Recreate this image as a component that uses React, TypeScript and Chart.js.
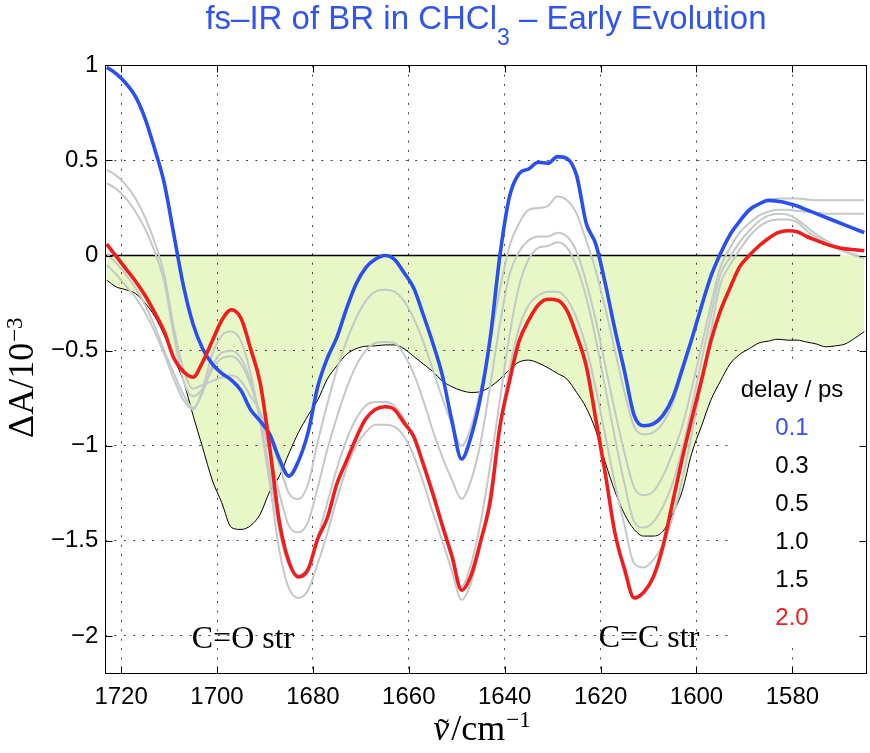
import React, { useEffect, useRef } from 'react';
import { Chart, registerables } from 'chart.js';

Chart.register(...registerables);

// ---------- data ----------
const wavenumbers = [
  1723, 1721, 1719, 1717, 1715, 1713, 1711, 1709, 1707, 1705,
  1703, 1701, 1699, 1697, 1695, 1693, 1691, 1689, 1687, 1685,
  1683, 1681, 1679, 1677, 1675, 1673, 1671, 1669, 1667, 1665,
  1663, 1661, 1659, 1657, 1655, 1653, 1651, 1649, 1647, 1645,
  1643, 1641, 1639, 1637, 1635, 1633, 1631, 1629, 1627, 1625,
  1623, 1621, 1619, 1617, 1615, 1613, 1611, 1609, 1607, 1605,
  1603, 1601, 1599, 1597, 1595, 1593, 1591, 1589, 1587, 1585,
  1583, 1581, 1579, 1577, 1575, 1573, 1571, 1569, 1567, 1565,
];

const delay01 = [
  0.99, 0.955, 0.905, 0.835, 0.72, 0.56, 0.38, 0.11, -0.16, -0.36,
  -0.49, -0.57, -0.62, -0.655, -0.71, -0.81, -0.87, -0.94, -1.07, -1.16,
  -1.08, -0.93, -0.69, -0.54, -0.43, -0.28, -0.15, -0.065, -0.02, 0,
  -0.02, -0.09, -0.17, -0.31, -0.46, -0.63, -0.87, -1.07, -0.95, -0.74,
  -0.43, 0, 0.31, 0.43, 0.455, 0.49, 0.485, 0.52, 0.51, 0.42,
  0.17, 0.06, -0.15, -0.39, -0.61, -0.84, -0.895, -0.885, -0.84, -0.75,
  -0.6, -0.44, -0.27, -0.11, 0.01, 0.11, 0.18, 0.24, 0.27, 0.29,
  0.285, 0.275, 0.26, 0.24, 0.22, 0.2, 0.18, 0.16, 0.14, 0.12,
];

const delay03 = [
  0.45, 0.42, 0.37, 0.3, 0.2, 0.07, -0.1, -0.38, -0.6, -0.7,
  -0.68, -0.66, -0.64, -0.63, -0.66, -0.74, -0.82, -0.95, -1.1, -1.25,
  -1.28, -1.2, -0.98, -0.78, -0.6, -0.45, -0.33, -0.24, -0.19, -0.18,
  -0.19, -0.24, -0.33, -0.45, -0.6, -0.75, -0.89, -1.0, -0.9, -0.7,
  -0.45, -0.18, 0.05, 0.17, 0.24, 0.25, 0.26, 0.31, 0.29, 0.22,
  0.08, -0.08, -0.28, -0.5, -0.72, -0.9, -0.94, -0.93, -0.88, -0.78,
  -0.62, -0.45, -0.28, -0.12, 0.0, 0.1, 0.18, 0.23, 0.27, 0.29,
  0.3, 0.3, 0.3, 0.295, 0.29, 0.29, 0.29, 0.29, 0.29, 0.29,
];

const delay05 = [
  0.38, 0.35, 0.3, 0.23, 0.14, 0.02, -0.14, -0.42, -0.66, -0.74,
  -0.7, -0.6, -0.54, -0.53, -0.57, -0.68, -0.84, -1.04, -1.25, -1.42,
  -1.455, -1.4, -1.22, -1.02, -0.85, -0.7, -0.58, -0.5, -0.46, -0.455,
  -0.46, -0.52, -0.62, -0.76, -0.92, -1.06, -1.18, -1.28, -1.18, -0.98,
  -0.68, -0.36, -0.1, 0.02, 0.08, 0.1, 0.1, 0.12, 0.1, 0.02,
  -0.14, -0.34, -0.58, -0.82, -1.04, -1.22, -1.26, -1.24, -1.16, -1.04,
  -0.9, -0.7, -0.48, -0.26, -0.06, 0.04, 0.12, 0.17, 0.21, 0.23,
  0.24, 0.24, 0.235, 0.23, 0.225, 0.22, 0.22, 0.22, 0.22, 0.22,
];

const delay10 = [
  0.01, -0.04, -0.1, -0.17, -0.26, -0.37, -0.5, -0.62, -0.73, -0.8,
  -0.72, -0.58, -0.51, -0.5, -0.54, -0.66, -0.86, -1.14, -1.45, -1.63,
  -1.68, -1.64, -1.48, -1.3, -1.12, -0.97, -0.86, -0.79, -0.77, -0.77,
  -0.79, -0.86, -0.96, -1.1, -1.27, -1.43, -1.6, -1.74, -1.62, -1.4,
  -1.1, -0.76, -0.42, -0.16, -0.02, 0.04, 0.05, 0.07, 0.04, -0.06,
  -0.22, -0.44, -0.7, -0.96, -1.2, -1.4, -1.43, -1.4, -1.32, -1.2,
  -1.02, -0.8, -0.56, -0.32, -0.1, -0.01, 0.07, 0.13, 0.18, 0.21,
  0.22, 0.215, 0.19, 0.15, 0.11, 0.08, 0.05, 0.02, 0.0, -0.015,
];

const delay15 = [
  -0.05, -0.1, -0.16, -0.22, -0.3, -0.4, -0.52, -0.65, -0.76, -0.81,
  -0.7, -0.52, -0.42, -0.4, -0.45, -0.62, -0.88, -1.2, -1.55, -1.75,
  -1.8, -1.76, -1.62, -1.46, -1.28, -1.12, -1.0, -0.93, -0.89, -0.89,
  -0.9, -0.95, -1.05, -1.19, -1.35, -1.5, -1.66, -1.81, -1.72, -1.52,
  -1.24, -0.9, -0.6, -0.38, -0.26, -0.21, -0.19, -0.19, -0.23, -0.33,
  -0.48, -0.7, -0.95, -1.2, -1.42, -1.62, -1.64, -1.6, -1.52, -1.38,
  -1.18, -0.94, -0.68, -0.4, -0.15, -0.05, 0.03, 0.1, 0.15, 0.18,
  0.19, 0.19, 0.175, 0.13, 0.095, 0.07, 0.04, 0.02, 0.005, -0.01,
];

const delay20 = [
  0.06, -0.005, -0.07, -0.135, -0.21, -0.3, -0.4, -0.54, -0.61, -0.64,
  -0.56, -0.45, -0.34, -0.285, -0.33, -0.49, -0.67, -1.01, -1.4, -1.61,
  -1.69, -1.65, -1.49, -1.38, -1.2, -1.08, -0.96, -0.86, -0.81, -0.795,
  -0.81, -0.88, -0.95, -1.095, -1.25, -1.42, -1.58, -1.76, -1.68, -1.5,
  -1.29, -0.9, -0.66, -0.45, -0.34, -0.26, -0.23, -0.235, -0.29, -0.42,
  -0.58, -0.86, -1.15, -1.46, -1.65, -1.80, -1.77, -1.69, -1.53, -1.3,
  -1.07, -0.86, -0.66, -0.45, -0.29, -0.17, -0.06, 0.0, 0.05, 0.09,
  0.12, 0.13, 0.125, 0.1, 0.08, 0.06, 0.045, 0.035, 0.03, 0.025,
];

// ground-state bleach (filled region boundary)
const bleach = [
  -0.13, -0.165, -0.18, -0.2, -0.25, -0.32, -0.42, -0.54, -0.66, -0.84,
  -1.01, -1.18, -1.3, -1.43, -1.44, -1.42, -1.36, -1.24, -1.16, -1.04,
  -0.93, -0.84, -0.76, -0.65, -0.58, -0.52, -0.49, -0.477, -0.475, -0.47,
  -0.47, -0.49, -0.53, -0.57, -0.61, -0.66, -0.69, -0.71, -0.72, -0.715,
  -0.69, -0.65, -0.6, -0.56, -0.55, -0.565, -0.59, -0.62, -0.65, -0.72,
  -0.8, -0.92, -1.09, -1.24, -1.36, -1.44, -1.475, -1.475, -1.45, -1.36,
  -1.24, -1.04, -0.9, -0.76, -0.66, -0.57, -0.52, -0.49, -0.46, -0.45,
  -0.44, -0.445, -0.445, -0.455, -0.465, -0.48, -0.475, -0.465, -0.435, -0.4,
];

const zeroLineX = [1723.3, 1570];
const zeroLineY = [0, 0];

const xTicks = [1720, 1700, 1680, 1660, 1640, 1620, 1600, 1580];
const xTickLabels = ['1720', '1700', '1680', '1660', '1640', '1620', '1600', '1580'];
const yTicks = [-2, -1.5, -1, -0.5, 0, 0.5, 1];
const yTickLabels = ['\u22122', '\u22121.5', '\u22121', '\u22120.5', '0', '0.5', '1'];

const delayLabels = ['0.1', '0.3', '0.5', '1.0', '1.5', '2.0'];

// ---------- style ----------
const W = 870;
const H = 753;
const X_MIN = 1564.5;
const X_MAX = 1723.3;
const Y_MIN = -2.2;
const Y_MAX = 1;
const BLUE = '#2a4ff0';
const TITLE_BLUE = '#2f55ee';
const RED = '#f21c1c';
const GRAY = '#c3c8c8';
const FILL = '#e7f7c5';
const SANS = '"Liberation Sans", Arial, sans-serif';
const SERIF = '"Liberation Serif", "Times New Roman", serif';
const legendColors = [TITLE_BLUE, '#000', '#000', '#000', '#000', RED];

function toPoints(xs: number[], ys: number[]) {
  return xs.map((x, i) => ({ x, y: ys[i] }));
}

const decorPlugin = {
  id: 'decor',
  afterDatasetsDraw(chart: any) {
    const { ctx, chartArea: a, scales } = chart;
    const xs = scales.x;
    const ys = scales.y;
    ctx.save();
    // legend background patch (white, no border) like MATLAB legend
    ctx.fillStyle = '#fff';
    ctx.fillRect(734, 364, a.right - 734 - 1, 278);

    ctx.strokeStyle = '#000';
    ctx.lineWidth = 1;
    ctx.setLineDash([]);
    const L = Math.round(a.left) + 0.5;
    const R = Math.round(a.right) - 0.5;
    const T = Math.round(a.top) + 0.5;
    const B = Math.round(a.bottom) - 0.5;
    ctx.strokeRect(L, T, R - L, B - T);
    const tl = 7;
    ctx.beginPath();
    xTicks.forEach((v) => {
      const px = Math.round(xs.getPixelForValue(v)) + 0.5;
      ctx.moveTo(px, B);
      ctx.lineTo(px, B - tl);
      ctx.moveTo(px, T);
      ctx.lineTo(px, T + tl);
    });
    yTicks.forEach((v) => {
      const py = Math.round(ys.getPixelForValue(v)) + 0.5;
      ctx.moveTo(L, py);
      ctx.lineTo(L + tl, py);
      ctx.moveTo(R, py);
      ctx.lineTo(R - tl, py);
    });
    ctx.stroke();
    ctx.restore();
  },
  afterDraw(chart: any) {
    const { ctx } = chart;
    ctx.save();
    ctx.textBaseline = 'alphabetic';

    // Title
    const t1 = 'fs\u2013IR of BR in CHCl';
    const sub = '3';
    const t2 = ' \u2013 Early Evolution';
    const mainFont = `33px ${SANS}`;
    const subFont = `23px ${SANS}`;
    ctx.font = mainFont;
    const w1 = ctx.measureText(t1).width;
    const w2 = ctx.measureText(t2).width;
    ctx.font = subFont;
    const ws = ctx.measureText(sub).width;
    const total = w1 + ws + w2;
    const x0 = 486 - total / 2;
    ctx.fillStyle = TITLE_BLUE;
    ctx.textAlign = 'left';
    ctx.font = mainFont;
    ctx.fillText(t1, x0, 29);
    ctx.font = subFont;
    ctx.fillText(sub, x0 + w1, 45);
    ctx.font = mainFont;
    ctx.fillText(t2, x0 + w1 + ws, 29);

    // Legend (colored text)
    ctx.textAlign = 'center';
    ctx.textBaseline = 'middle';
    ctx.font = `24px ${SANS}`;
    ctx.fillStyle = '#000';
    ctx.fillText('delay / ps', 792, 390);
    const ly = [428, 466, 504, 542, 580, 618];
    delayLabels.forEach((s, i) => {
      ctx.fillStyle = legendColors[i];
      ctx.fillText(s, 792, ly[i]);
    });

    // Band annotations
    ctx.textBaseline = 'alphabetic';
    ctx.fillStyle = '#000';
    ctx.font = `32px ${SERIF}`;
    ctx.fillText('C=O str', 243, 648);
    ctx.fillText('C=C str', 649, 647);

    // Y axis title
    ctx.save();
    ctx.translate(33, 438);
    ctx.rotate(-Math.PI / 2);
    ctx.textAlign = 'left';
    ctx.font = `36px ${SERIF}`;
    const ymain = '\u0394A/10';
    ctx.fillText(ymain, 0, 0);
    const ym = ctx.measureText(ymain).width;
    ctx.font = `23px ${SERIF}`;
    ctx.fillText('\u22123', ym + 1, -11);
    ctx.restore();

    // X axis title: nu-tilde / cm^-1
    ctx.textAlign = 'left';
    const nu = '\u03BD';
    const rest = '/cm';
    const sup = '\u22121';
    ctx.font = `italic 36px ${SERIF}`;
    const wn = ctx.measureText(nu).width + 2;
    ctx.font = `36px ${SERIF}`;
    const wr = ctx.measureText(rest).width;
    ctx.font = `23px ${SERIF}`;
    const wsup = ctx.measureText(sup).width;
    const tot = wn + wr + 1 + wsup;
    const sx = 482 - tot / 2;
    ctx.font = `italic 36px ${SERIF}`;
    ctx.fillText(nu, sx, 740);
    ctx.textAlign = 'center';
    ctx.font = `34px ${SERIF}`;
    ctx.fillText('\u02DC', sx + wn / 2 + 1, 742);
    ctx.textAlign = 'left';
    ctx.font = `36px ${SERIF}`;
    ctx.fillText(rest, sx + wn, 740);
    ctx.font = `23px ${SERIF}`;
    ctx.fillText(sup, sx + wn + wr + 1, 727);

    ctx.restore();
  },
};

export default function App() {
  const canvasRef = useRef<HTMLCanvasElement | null>(null);

  useEffect(() => {
    const canvas = canvasRef.current;
    if (!canvas) return;

    const grayStyle = {
      borderColor: GRAY,
      borderWidth: 2,
      pointRadius: 0,
      fill: false,
      cubicInterpolationMode: 'monotone' as const,
      borderJoinStyle: 'round' as const,
      order: 2,
    };

    const chart = new Chart(canvas, {
      type: 'line',
      data: {
        datasets: [
          {
            label: 'bleach',
            data: toPoints(wavenumbers, bleach),
            borderColor: '#000',
            borderWidth: 1,
            pointRadius: 0,
            backgroundColor: FILL,
            fill: { value: 0 },
            cubicInterpolationMode: 'monotone',
            order: 4,
          },
          {
            label: 'zero',
            data: toPoints(zeroLineX, zeroLineY),
            borderColor: '#000',
            borderWidth: 1.6,
            pointRadius: 0,
            fill: false,
            order: 3,
          },
          { label: '0.3 ps', data: toPoints(wavenumbers, delay03), ...grayStyle },
          { label: '0.5 ps', data: toPoints(wavenumbers, delay05), ...grayStyle },
          { label: '1.0 ps', data: toPoints(wavenumbers, delay10), ...grayStyle },
          { label: '1.5 ps', data: toPoints(wavenumbers, delay15), ...grayStyle },
          {
            label: '0.1 ps',
            data: toPoints(wavenumbers, delay01),
            borderColor: BLUE,
            borderWidth: 3.6,
            pointRadius: 0,
            fill: false,
            cubicInterpolationMode: 'monotone',
            borderJoinStyle: 'round',
            order: 1,
          },
          {
            label: '2.0 ps',
            data: toPoints(wavenumbers, delay20),
            borderColor: RED,
            borderWidth: 3.6,
            pointRadius: 0,
            fill: false,
            cubicInterpolationMode: 'monotone',
            borderJoinStyle: 'round',
            order: 0,
          },
        ],
      },
      options: {
        animation: false,
        responsive: false,
        maintainAspectRatio: false,
        events: [],
        layout: { padding: { left: 0, top: 65.3, right: 3.3, bottom: 0 } },
        plugins: {
          legend: { display: false },
          tooltip: { enabled: false },
          title: { display: false },
          filler: { drawTime: 'beforeDraw' },
        },
        scales: {
          x: {
            type: 'linear',
            reverse: true,
            min: X_MIN,
            max: X_MAX,
            afterBuildTicks: (s: any) => {
              s.ticks = xTicks.map((v) => ({ value: v }));
            },
            afterFit: (s: any) => {
              s.height = 79;
            },
            ticks: {
              autoSkip: false,
              maxRotation: 0,
              padding: 9,
              color: '#000',
              font: { family: SANS, size: 24 },
              callback: (v: any) => xTickLabels[xTicks.indexOf(Number(v))] ?? '',
            },
            grid: {
              drawTicks: false,
              color: '#444',
              lineWidth: 1,
            },
            border: { display: false, dash: [2, 7.4] },
          },
          y: {
            type: 'linear',
            min: Y_MIN,
            max: Y_MAX,
            afterBuildTicks: (s: any) => {
              s.ticks = yTicks.map((v) => ({ value: v }));
            },
            afterFit: (s: any) => {
              s.width = 105.3;
            },
            ticks: {
              autoSkip: false,
              padding: 7,
              color: '#000',
              font: { family: SANS, size: 24 },
              callback: (v: any) => yTickLabels[yTicks.indexOf(Number(v))] ?? '',
            },
            grid: {
              drawTicks: false,
              color: (c: any) => (c.tick && c.tick.value === 0 ? 'rgba(0,0,0,0)' : '#444'),
              lineWidth: 1,
            },
            border: { display: false, dash: [2, 7.4] },
          },
        },
      },
      plugins: [decorPlugin],
    });

    return () => {
      chart.destroy();
    };
  }, []);

  return (
    <div style={{ position: 'absolute', left: 0, top: 0, width: W, height: H, background: '#fff' }}>
      <canvas ref={canvasRef} width={W} height={H} style={{ width: W, height: H, display: 'block' }} />
    </div>
  );
}
